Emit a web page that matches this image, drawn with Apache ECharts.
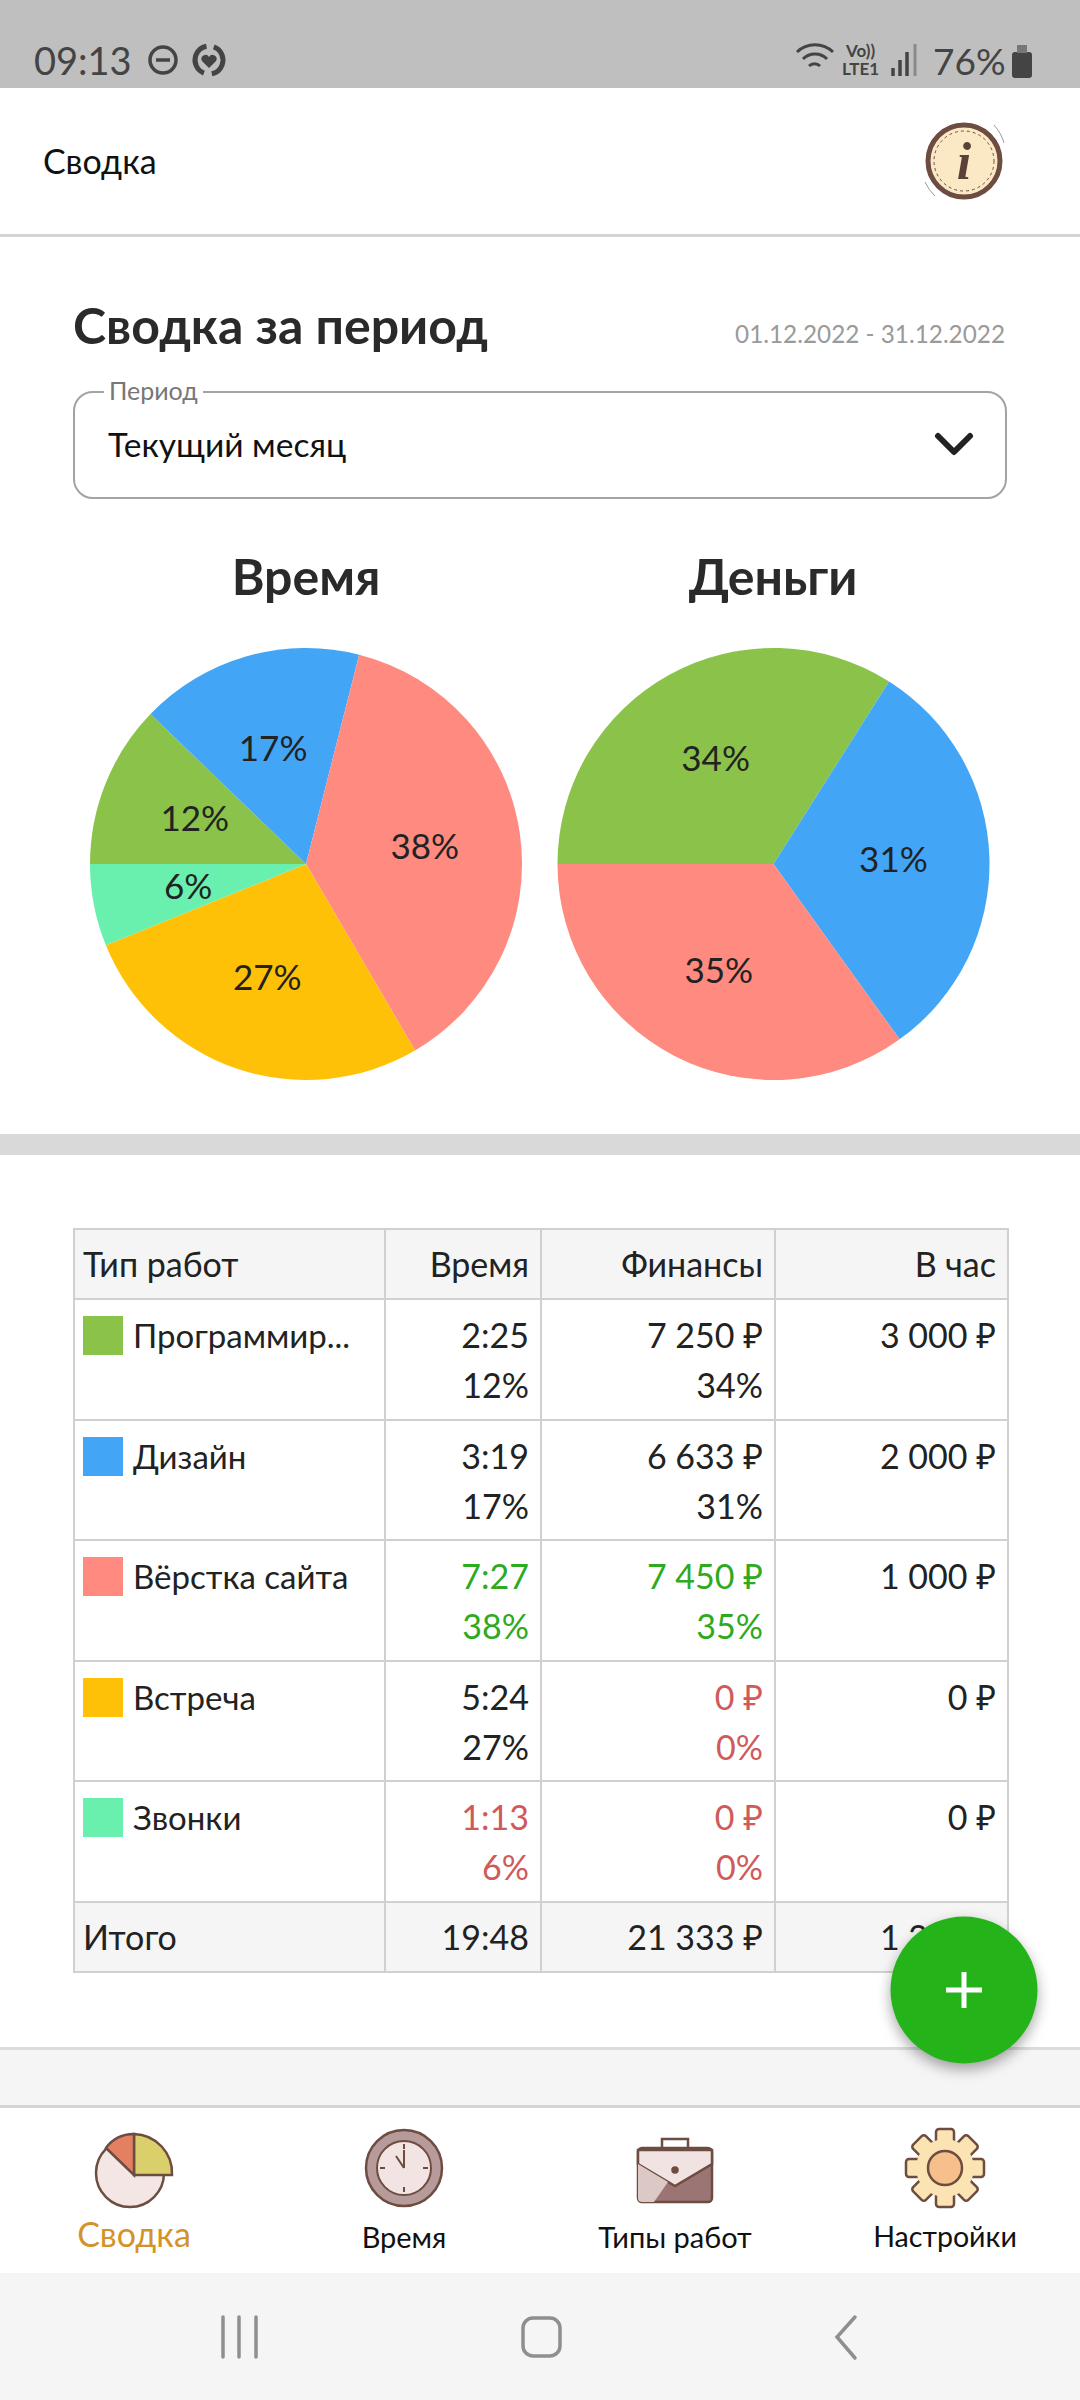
<!DOCTYPE html>
<html lang="ru"><head><meta charset="utf-8">
<script src="https://cdn.jsdelivr.net/npm/echarts@6/dist/echarts.min.js"></script>
<style>
html,body{margin:0;padding:0;background:#fff}
body{width:1080px;height:2400px;position:relative;overflow:hidden;font-family:Lato,"Noto Sans",sans-serif;color:#222}
.a{position:absolute;white-space:nowrap}
.c{transform:translate(-50%,-50%)}
.vm{transform:translateY(-50%)}
.r{transform:translate(-100%,-50%)}
table{position:absolute;left:73px;top:1228px;width:934px;border-collapse:collapse;table-layout:fixed;font-size:34px;line-height:50px}
td,th{border:2px solid #d0d0d0;padding:10px 11px 0 8px;vertical-align:top;text-align:right;font-weight:400;box-sizing:border-box;overflow:hidden;white-space:nowrap}
tr{height:120.6px}
tr.h{height:70px;background:#f5f5f5}
tr.h td,tr.h th{padding-top:0;vertical-align:middle;text-align:right}
tr.h .n{text-align:left}
td.n{text-align:left;font-size:33px}
.sw{display:inline-block;width:40px;height:39px;vertical-align:top;margin:6px 10px 0 0}
.g{color:#2eaa20}.b{color:#d05a5a}
</style></head><body>
<div class="a" style="left:0;top:0;width:1080px;height:88px;background:#bfbfbf"></div>
<div class="a vm" style="left:34px;top:60px;font-size:38px;color:#444">09:13</div>
<svg class="a" style="left:145px;top:40px" width="90" height="40" viewBox="0 0 90 40" fill="none" stroke="#444" stroke-width="3.5"><circle cx="18" cy="20" r="13"/><path d="M11 20h14"/><circle cx="64" cy="20" r="14" stroke-width="5" stroke-dasharray="36 8" transform="rotate(-70 64 20)"/><path d="M64 28l-7-7a4 4 0 0 1 7-4 4 4 0 0 1 7 4z" fill="#444" stroke="none"/></svg>
<svg class="a" style="left:795px;top:40px" width="125" height="40" viewBox="0 0 125 40" fill="none" stroke="#444" stroke-width="3"><path d="M2 12a26 26 0 0 1 36 0M8 19a17 17 0 0 1 24 0M14 26a8 8 0 0 1 11 0"/><path d="M98 36v-8M105 36v-16M112 36v-24" stroke-width="3.5"/><path d="M120 36v-32" stroke="#8a8a8a" stroke-width="3"/></svg>
<div class="a" style="left:842px;top:42px;font-size:17px;line-height:18px;color:#444;font-weight:700;text-align:center">Vo))<br>LTE1</div>
<div class="a vm" style="left:933px;top:60px;font-size:37px;color:#444">76%</div>
<svg class="a" style="left:1010px;top:44px" width="24" height="34"><rect x="2" y="8" width="20" height="26" rx="3" fill="#444"/><rect x="7" y="1" width="10" height="8" fill="#777"/></svg>

<div class="a vm" style="left:43px;top:160px;font-size:34px;color:#111">Сводка</div>
<svg class="a" style="left:920px;top:120px" width="90" height="84" viewBox="0 0 90 84"><circle cx="44" cy="41" r="36" fill="#fbe9c6" stroke="#6d4c41" stroke-width="5"/><circle cx="44" cy="41" r="30" fill="none" stroke="#6d4c41" stroke-dasharray="3 3"/><text x="44" y="59" text-anchor="middle" font-family="Liberation Serif" font-style="italic" font-weight="700" font-size="52" fill="#5d4037">i</text><path d="M5 62a44 44 0 0 0 10 14M74 5a44 44 0 0 1 10 18" fill="none" stroke="#999"/></svg>
<div class="a" style="left:0;top:234px;width:1080px;height:3px;background:#d4d4d4"></div>

<div class="a vm" style="left:73px;top:325px;font-size:50px;font-weight:700;color:#2a2a2a">Сводка за период</div>
<div class="a r" style="left:1005px;top:333px;font-size:24.3px;color:#9a9a9a">01.12.2022 - 31.12.2022</div>
<div class="a" style="left:73px;top:391px;width:934px;height:108px;box-sizing:border-box;border:2.5px solid #a3a3a3;border-radius:20px"></div>
<div class="a vm" style="left:104px;top:390px;font-size:25px;color:#777;background:#fff;padding:0 5px">Период</div>
<div class="a vm" style="left:108px;top:444px;font-size:33.5px;color:#111">Текущий месяц</div>
<svg class="a" style="left:934px;top:431px" width="40" height="28" fill="none" stroke="#222" stroke-width="6" stroke-linecap="round" stroke-linejoin="round"><path d="M4 5l16 16 16-16"/></svg>

<div id="chart" class="a" style="left:0;top:540px;width:1080px;height:590px"></div>
<div class="a" style="left:0;top:1134px;width:1080px;height:21px;background:#d9d9d9"></div>
<table id="tbl"></table>

<div class="a" style="left:0;top:2047px;width:1080px;height:61px;background:#f5f5f5;border-top:3px solid #dcdcdc;border-bottom:3px solid #d4d4d4;box-sizing:border-box"></div>
<div class="a c" style="left:964px;top:1990px;width:147px;height:147px;border-radius:50%;background:#25b31a;box-shadow:0 6px 14px rgba(0,0,0,.35)"></div>
<svg class="a" style="left:945px;top:1971px" width="38" height="38" stroke="#fff" stroke-width="5"><path d="M19 1v36M1 19h36"/></svg>

<svg class="a" style="left:90px;top:2125px" width="90" height="90" viewBox="0 0 90 90" stroke="#6d4c41" stroke-width="2.5"><circle cx="40" cy="48" r="34" fill="#f3e6e4"/><path d="M44 50V9a39 39 0 0 1 38 41z" fill="#d9cf6b"/><path d="M44 50V9a33 33 0 0 0-28 14z" fill="#e57f62"/></svg>
<svg class="a" style="left:362px;top:2126px" width="84" height="84" viewBox="0 0 84 84" stroke="#6d4c41"><circle cx="42" cy="42" r="38" fill="#b79a9a" stroke-width="2.5"/><circle cx="42" cy="42" r="27" fill="#f2e4e2" stroke-width="2"/><path d="M42 42V24M42 42L34 30M42 18v5M42 61v5M18 42h5M61 42h5" stroke-width="2" fill="none"/></svg>
<svg class="a" style="left:634px;top:2134px" width="82" height="72" viewBox="0 0 82 72" stroke="#6d4c41" stroke-width="2.5"><path d="M28 14V5h26v9" fill="none"/><rect x="4" y="14" width="74" height="54" rx="4" fill="#9b7474"/><path d="M4 16h74v14L41 52 4 30z" fill="#f0e3e1"/><path d="M4 30L34 48 20 68H8a4 4 0 0 1-4-4z" fill="#dcc8c4" stroke="none"/><circle cx="41" cy="36" r="2.5" fill="#6d4c41"/></svg>
<svg class="a" style="left:903px;top:2126px" width="84" height="84" viewBox="0 0 84 84" stroke="#6d4c41" stroke-width="2.5"><g fill="#fbe3b4"><rect x="33" y="3" width="18" height="78" rx="3"/><rect x="33" y="3" width="18" height="78" rx="3" transform="rotate(45 42 42)"/><rect x="33" y="3" width="18" height="78" rx="3" transform="rotate(90 42 42)"/><rect x="33" y="3" width="18" height="78" rx="3" transform="rotate(135 42 42)"/></g><circle cx="42" cy="42" r="29" fill="#fbe3b4" stroke="none"/><circle cx="42" cy="42" r="17" fill="#f5c08b"/></svg>
<div class="a c" style="left:134px;top:2233px;font-size:34px;color:#d4932a">Сводка</div>
<div class="a c" style="left:404px;top:2236px;font-size:29px;color:#111">Время</div>
<div class="a c" style="left:675px;top:2236px;font-size:29px;color:#111">Типы работ</div>
<div class="a c" style="left:945px;top:2236px;font-size:28.6px;color:#111">Настройки</div>
<div class="a" style="left:0;top:2273px;width:1080px;height:127px;background:#f5f5f5"></div>
<svg class="a" style="left:215px;top:2312px" width="660" height="50" fill="none" stroke="#8f8f8f" stroke-width="3.5" stroke-linecap="round"><path d="M8 5v40M24 5v40M41 5v40"/><rect x="308" y="6" width="37" height="38" rx="10"/><path d="M640 5L622 25 640 46"/></svg>

<script>
// ---- data ----
var workTypes   = ['Программирование', 'Дизайн', 'Вёрстка сайта', 'Встреча', 'Звонки'];
var minutes     = [145, 199, 447, 324, 73];
var money       = [7250, 6633, 7450, 0, 0];
var rates       = [3000, 2000, 1000, 0, 0];
var timeLabels  = ['2:25', '3:19', '7:27', '5:24', '1:13'];
var timeShare   = [12, 17, 38, 27, 6];
var moneyShare  = [34, 31, 35, 0, 0];
var sliceColors = ['#8BC34A', '#42A5F5', '#FF8A80', '#FFC107', '#69F0AE'];
var shownNames  = ['Программир...', 'Дизайн', 'Вёрстка сайта', 'Встреча', 'Звонки'];
var totalRow    = ['Итого', '19:48', '21 333 ₽', '1 250 ₽'];
var headerRow   = ['Тип работ', 'Время', 'Финансы', 'В час'];
var pieTitles   = ['Время', 'Деньги'];

function rub(v){ return String(v).replace(/\B(?=(\d{3})+$)/g,' ') + ' ₽'; }
function tone(values, i, v){
  var max = Math.max.apply(null, values), min = Math.min.apply(null, values);
  return v === max ? 'g' : (v === min ? 'b' : '');
}
var html = '<colgroup><col style="width:311px"><col style="width:156px"><col style="width:234px"><col style="width:233px"></colgroup>';
html += '<tr class="h"><th class="n">'+headerRow[0]+'</th><th>'+headerRow[1]+'</th><th>'+headerRow[2]+'</th><th>'+headerRow[3]+'</th></tr>';
workTypes.forEach(function(n,i){
  var tc = tone(minutes,i,minutes[i]), mc = tone(money,i,money[i]);
  html += '<tr><td class="n"><span class="sw" style="background:'+sliceColors[i]+'"></span>'+shownNames[i]+'</td>'
    + '<td class="'+tc+'">'+timeLabels[i]+'<br>'+timeShare[i]+'%</td>'
    + '<td class="'+mc+'">'+rub(money[i])+'<br>'+moneyShare[i]+'%</td>'
    + '<td>'+rub(rates[i])+'</td></tr>';
});
html += '<tr class="h"><td class="n" style="font-size:34px">'+totalRow[0]+'</td><td>'+totalRow[1]+'</td><td>'+totalRow[2]+'</td><td>'+totalRow[3]+'</td></tr>';
document.getElementById('tbl').innerHTML = html;

function pieData(values, shares){
  return values.map(function(v,i){
    return {name: workTypes[i], value: v, share: shares[i], itemStyle:{color:sliceColors[i]}};
  });
}
function slices(values, shares, cx){
  return {type:'pie', center:[cx,324], radius:[0,216], startAngle:180, clockwise:true, animation:false,
    silent:true, minAngle:0, stillShowZeroSum:false, label:{show:false}, labelLine:{show:false},
    data: pieData(values, shares)};
}
function labels(values, shares, cx){
  return {type:'pie', center:[cx,322], radius:[18,216], startAngle:180, clockwise:true, animation:false,
    silent:true, itemStyle:{color:'rgba(0,0,0,0)'}, labelLine:{show:false},
    label:{show:true, position:'inside', color:'#222', fontSize:35, fontFamily:'Lato, "Noto Sans", sans-serif',
      formatter:function(p){ return p.data.share ? p.data.share + '%' : ''; }},
    data: pieData(values, shares).map(function(d){ return {name:d.name,value:d.value,share:d.share,itemStyle:{color:'rgba(0,0,0,0)'}}; })};
}
var chart = echarts.init(document.getElementById('chart'), null, {renderer:'svg', width:1080, height:590});
var tStyle = {fontSize:50, fontWeight:700, color:'#2a2a2a', fontFamily:'Lato, "Noto Sans", sans-serif'};
chart.setOption({
  animation:false,
  title:[
    {text:pieTitles[0], left:301, top:6, textAlign:'center', textStyle:tStyle},
    {text:pieTitles[1], left:768, top:6, textAlign:'center', textStyle:tStyle}
  ],
  series:[
    slices(minutes,timeShare,306), slices(money,moneyShare,773.5),
    labels(minutes,timeShare,306), labels(money,moneyShare,773.5)
  ]
});
</script>
</body></html>
